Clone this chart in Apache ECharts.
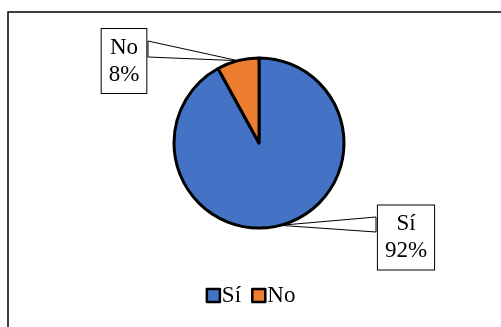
<!DOCTYPE html>
<html>
<head>
<meta charset="utf-8">
<script src="https://cdn.jsdelivr.net/npm/echarts@6/dist/echarts.min.js"></script>
<style>
  html, body { margin: 0; padding: 0; background: #fff; }
  #chart { width: 501px; height: 327px; }
</style>
</head>
<body>
<div id="chart"></div>
<script>
// Survey answers
const categories = ['Sí', 'No'];
const values = [92, 8];
const colors = ['#4472C4', '#ED7D31'];

const FONT = 'Liberation Serif';

// Top-left corners of the callout boxes, and where each callout's wedge meets its box
const calloutBoxes = [
  { x: 376, y: 206, w: 60, h: 63, side: 'left',  a: 11, b: 26 },
  { x: 100, y: 29,  w: 48, h: 64, side: 'right', a: 12, b: 28 }
];

const chart = echarts.init(document.getElementById('chart'), null, { renderer: 'canvas' });

const option = {
  animation: false,
  backgroundColor: '#fff',
  color: colors,
  graphic: [{
    type: 'rect',
    id: 'frame',
    shape: { x: 8, y: 12, width: 700, height: 500 },
    style: { fill: 'none', stroke: '#000', lineWidth: 1.5 },
    z: 0
  }],
  legend: {
    data: categories.map(name => ({
      name,
      itemStyle: { borderColor: '#000', borderWidth: 2.5 }
    })),
    bottom: 15,
    left: 'center',
    itemWidth: 13,
    itemHeight: 13,
    itemGap: 10,
    icon: 'rect',
    textStyle: { fontFamily: FONT, fontSize: 23, color: '#000', padding: [0, 0, 0, -3] }
  },
  series: [{
    type: 'pie',
    center: [259, 143],
    radius: 85,
    startAngle: 90,
    clockwise: true,
    data: categories.map((name, i) => ({ name, value: values[i] })),
    itemStyle: { borderColor: '#000', borderWidth: 3 },
    emphasis: { disabled: true },
    label: {
      show: true,
      position: 'outside',
      formatter: p => p.name + '\n' + Math.round(p.percent) + '%',
      fontFamily: FONT,
      fontSize: 23,
      lineHeight: 27,
      color: '#000',
      align: 'center',
      backgroundColor: '#fff',
      borderColor: '#000',
      borderWidth: 1,
      padding: [5, 7, 5, 7]
    },
    labelLine: { show: false },
    labelLayout: params => {
      const b = calloutBoxes[params.dataIndex];
      return { x: b.x + b.w / 2, y: b.y + b.h / 2, align: 'center', verticalAlign: 'middle' };
    }
  }]
};

chart.setOption(option);

// Callout wedges from each label box to the middle of its slice's rim
function drawCallouts() {
  const data = chart.getModel().getSeriesByIndex(0).getData();
  const shapes = [];
  calloutBoxes.forEach((b, i) => {
    const l = data.getItemLayout(i);
    const mid = (l.startAngle + l.endAngle) / 2;
    const tip = [l.cx + l.r * Math.cos(mid), l.cy + l.r * Math.sin(mid)];
    const ex = b.side === 'left' ? b.x : b.x + b.w;
    shapes.push({
      type: 'polygon',
      id: 'callout' + i,
      shape: { points: [tip, [ex, b.y + b.a], [ex, b.y + b.b]] },
      style: { fill: '#fff', stroke: '#000', lineWidth: 1 },
      z: 1
    });
  });
  chart.setOption({ graphic: shapes });
}
drawCallouts();
</script>
</body>
</html>
